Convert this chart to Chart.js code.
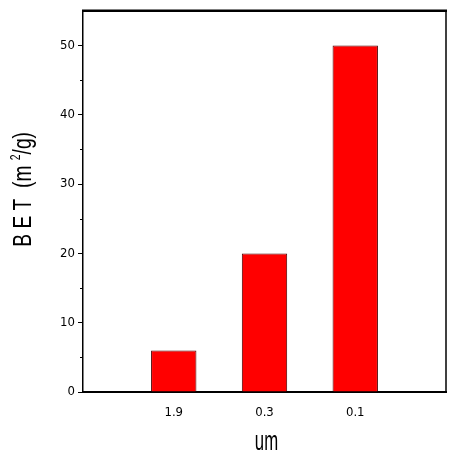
<!DOCTYPE html>
<html>
<head>
<meta charset="utf-8">
<script src="https://cdn.jsdelivr.net/npm/chart.js@4/dist/chart.umd.min.js"></script>
<style>
html,body{margin:0;padding:0;background:#fff;}
#wrap{width:465px;height:464px;position:relative;}
</style>
</head>
<body>
<div id="wrap"><canvas id="c"></canvas></div>
<script>
const categories = ['', '1.9', '0.3', '0.1', ''];
const betValues = [null, 6, 20, 50, null];
const yMajorTicks = [0, 10, 20, 30, 40, 50];
const yMinorTicks = [5, 15, 25, 35, 45];
const yTitleParts = ['B E T  (m ', '2', '/g)'];
const xTitle = 'um';

const FONT = '"DejaVu Sans Condensed", "Liberation Sans Narrow", "Liberation Sans", Arial, sans-serif';
const TFONT = '"Liberation Sans", Arial, sans-serif';

const framePlugin = {
  id: 'frame',
  afterDraw(chart) {
    const ctx = chart.ctx, a = chart.chartArea, y = chart.scales.y;
    ctx.save();
    ctx.strokeStyle = '#000';
    ctx.lineWidth = 2.5;
    ctx.beginPath(); ctx.moveTo(a.left - 1, a.top); ctx.lineTo(a.right + 1, a.top); ctx.stroke();
    ctx.lineWidth = 1.5;
    ctx.beginPath(); ctx.moveTo(a.right, a.top); ctx.lineTo(a.right, a.bottom); ctx.stroke();
    ctx.lineWidth = 1;
    yMinorTicks.forEach(v => {
      const p = Math.round(y.getPixelForValue(v)) + 0.5;
      ctx.beginPath(); ctx.moveTo(a.left - 3, p); ctx.lineTo(a.left, p); ctx.stroke();
    });
    ctx.restore();

    // y-axis title with superscript (tall, condensed)
    ctx.save();
    const big = '26px ' + TFONT, small = '14px ' + TFONT;
    ctx.fillStyle = '#000';
    ctx.font = big; const w0 = ctx.measureText(yTitleParts[0]).width;
    const w2 = ctx.measureText(yTitleParts[2]).width;
    ctx.font = small; const w1 = ctx.measureText(yTitleParts[1]).width;
    const total = w0 + w1 + w2;
    const cy = (a.top + a.bottom) / 2 - 12;
    ctx.translate(24, cy);
    ctx.rotate(-Math.PI / 2);
    ctx.scale(0.74, 1);
    ctx.textBaseline = 'middle';
    ctx.textAlign = 'left';
    let x = -total / 2;
    ctx.font = big; ctx.fillText(yTitleParts[0], x, 0); x += w0;
    ctx.font = small; ctx.fillText(yTitleParts[1], x, -8); x += w1;
    ctx.font = big; ctx.fillText(yTitleParts[2], x, 0);
    ctx.restore();

    // x-axis title
    ctx.save();
    ctx.fillStyle = '#000';
    ctx.font = '27px ' + TFONT;
    ctx.translate((a.left + a.right) / 2 + 2, 445);
    ctx.scale(0.62, 1);
    ctx.textAlign = 'center';
    ctx.textBaseline = 'middle';
    ctx.fillText(xTitle, 0, -2);
    ctx.restore();
  }
};

new Chart(document.getElementById('c'), {
  type: 'bar',
  data: {
    labels: categories,
    datasets: [{
      data: betValues,
      backgroundColor: '#ff0000',
      borderColor: '#4a0000',
      borderWidth: 1,
      barPercentage: 0.5,
      categoryPercentage: 1.0
    }]
  },
  options: {
    responsive: true,
    maintainAspectRatio: false,
    animation: false,
    layout: { padding: { top: 9, right: 19, left: 0, bottom: 0 } },
    plugins: { legend: { display: false }, tooltip: { enabled: false } },
    scales: {
      x: {
        offset: false,
        grid: { display: false, drawTicks: false },
        border: { display: true, color: '#000', width: 2 },
        ticks: { color: '#000', font: { family: FONT, size: 13 }, padding: 13, maxRotation: 0, autoSkip: false },
        title: { display: false },
        afterFit(s) { s.height = 72; }
      },
      y: {
        min: 0, max: 55,
        afterBuildTicks(s) { s.ticks = yMajorTicks.map(v => ({ value: v })); },
        grid: { drawOnChartArea: false, drawTicks: true, tickLength: 5, color: '#000', lineWidth: 1 },
        border: { display: true, color: '#000', width: 1.5 },
        ticks: { color: '#000', font: { family: FONT, size: 13 }, padding: 3 },
        title: { display: false },
        afterFit(s) { s.width = 83; }
      }
    }
  },
  plugins: [framePlugin]
});
</script>
</body>
</html>
